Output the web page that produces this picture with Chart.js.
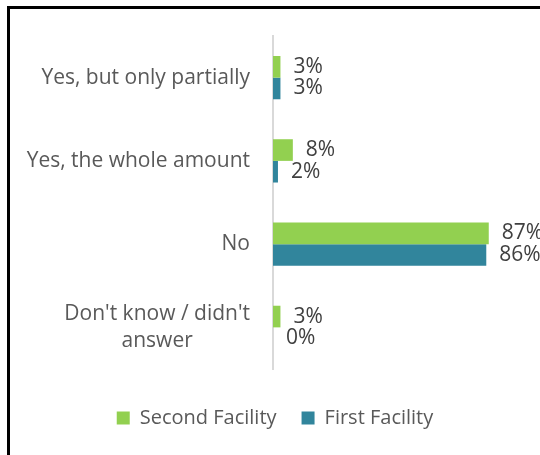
<!DOCTYPE html>
<html>
<head>
<meta charset="utf-8">
<script src="https://cdn.jsdelivr.net/npm/chart.js@4"></script>
<style>
  html, body { margin: 0; padding: 0; background: #fff; }
  #wrap { position: relative; width: 540px; height: 455px; overflow: hidden; }
  #frame { position: absolute; left: 7px; top: 6px; width: 600px; height: 500px; border-left: 3px solid #000; border-top: 3px solid #000; }
  canvas { position: absolute; left: 0; top: 0; }
</style>
</head>
<body>
<div id="wrap">
  <div id="frame"></div>
  <canvas id="chart" width="540" height="455"></canvas>
</div>
<script>
const categories = ['Yes, but only partially', 'Yes, the whole amount', 'No', ["Don't know / didn't", 'answer']];
const seriesNames = ['Second Facility', 'First Facility'];
const secondFacility = [3, 8, 87, 3];
const firstFacility = [3, 2, 86, 0];
const seriesColors = ['#92D050', '#31859C'];

const FONT = '"Open Sans", "DejaVu Sans", sans-serif';

// category names on the left and value labels at the bar ends
const labelPlugin = {
  id: 'labels',
  afterDraw(chart) {
    const ctx = chart.ctx;
    const yScale = chart.scales.y;
    ctx.save();
    ctx.font = '21px ' + FONT;
    ctx.textBaseline = 'middle';
    ctx.fillStyle = '#595959';
    ctx.textAlign = 'center';
    const right = 250;
    const lineH = 27;
    categories.forEach((c, i) => {
      const lines = Array.isArray(c) ? c : [c];
      const w = Math.max(...lines.map(l => ctx.measureText(l).width));
      const cy = yScale.getPixelForValue(i);
      lines.forEach((l, j) => {
        const y = cy + (j - (lines.length - 1) / 2) * lineH;
        ctx.fillText(l, right - w / 2, y);
      });
    });

    ctx.fillStyle = '#404040';
    ctx.textAlign = 'left';
    chart.data.datasets.forEach((ds, di) => {
      const meta = chart.getDatasetMeta(di);
      meta.data.forEach((bar, i) => {
        ctx.fillText(ds.data[i] + '%', bar.x + 13, bar.y);
      });
    });
    ctx.restore();
  }
};

new Chart(document.getElementById('chart'), {
  type: 'bar',
  data: {
    labels: categories,
    datasets: [
      { label: seriesNames[0], data: secondFacility, backgroundColor: seriesColors[0] },
      { label: seriesNames[1], data: firstFacility, backgroundColor: seriesColors[1] }
    ]
  },
  options: {
    indexAxis: 'y',
    responsive: false,
    animation: false,
    categoryPercentage: 0.52,
    barPercentage: 1,
    layout: { padding: { left: 29, right: 19, top: 36, bottom: 17 } },
    scales: {
      x: {
        min: 0, max: 100,
        grid: { display: false },
        border: { display: false },
        ticks: { display: false },
        afterFit(scale) { scale.height = 14; }
      },
      y: {
        grid: { display: false },
        border: { display: true, color: '#D9D9D9', width: 2 },
        ticks: { display: false },
        afterFit(scale) { scale.width = 244; }
      }
    },
    plugins: {
      legend: {
        position: 'bottom',
        labels: {
          boxWidth: 13,
          boxHeight: 13,
          padding: 25,
          color: '#595959',
          font: { size: 20, family: FONT }
        }
      },
      tooltip: { enabled: false }
    }
  },
  plugins: [labelPlugin]
});
</script>
</body>
</html>
